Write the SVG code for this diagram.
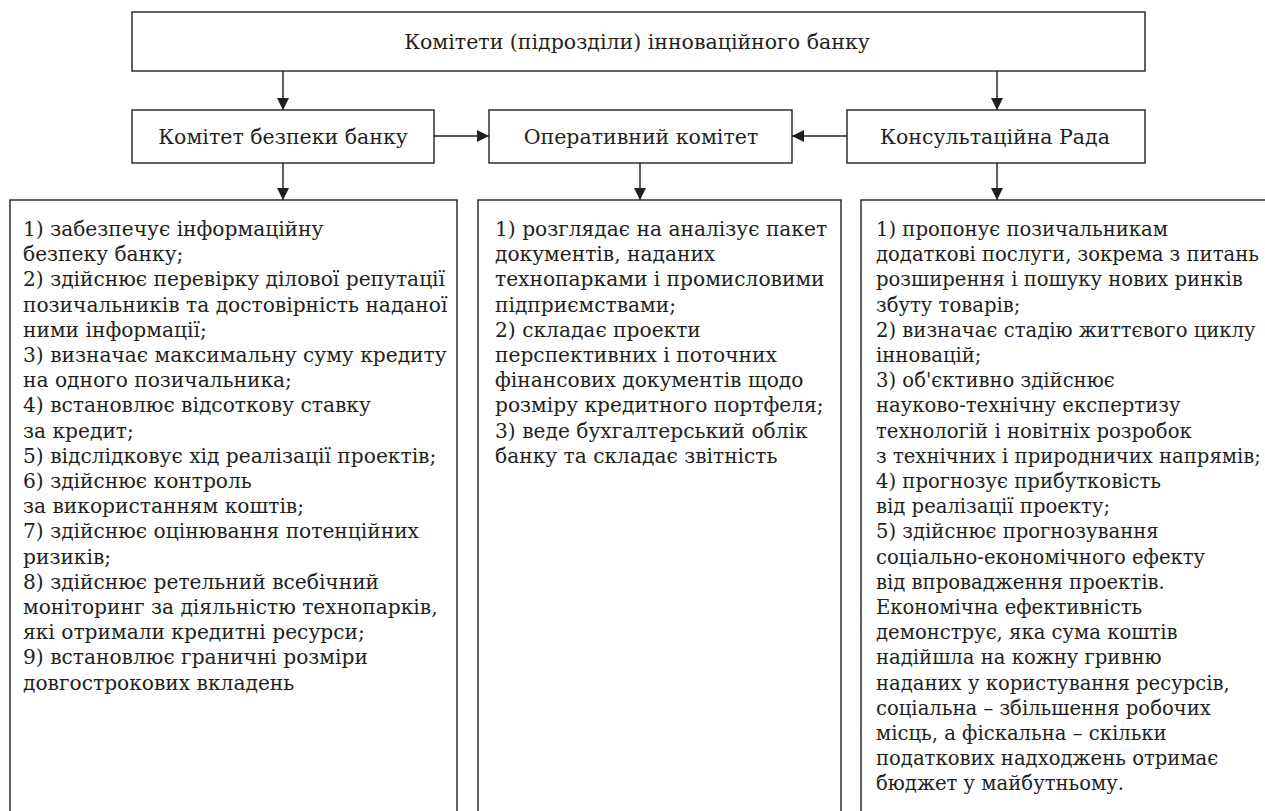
<svg xmlns="http://www.w3.org/2000/svg" width="1265" height="811" viewBox="0 0 1265 811">
<defs>
<style>
.box{fill:#fff;stroke:#231f20;stroke-width:1.4}
.ln{stroke:#231f20;stroke-width:1.4;fill:none}
text{fill:#231f20;font-family:"DejaVu Serif","Liberation Serif",serif}
.h{font-size:20.5px;text-anchor:middle}
.b{font-size:20.2px}
.r{font-size:19.6px}
</style>
<marker id="ah" viewBox="0 0 12 12" refX="12" refY="6" markerWidth="12" markerHeight="12" markerUnits="userSpaceOnUse" orient="auto">
<path d="M0,0 L12,6 L0,12 Z" fill="#231f20"/>
</marker>
</defs>
<rect width="1265" height="811" fill="#fff"/>
<g id="connectors">
<line class="ln" x1="283" y1="71" x2="283" y2="110" marker-end="url(#ah)"/>
<line class="ln" x1="997" y1="71" x2="997" y2="110" marker-end="url(#ah)"/>
<line class="ln" x1="434" y1="136" x2="489" y2="136" marker-end="url(#ah)"/>
<line class="ln" x1="847" y1="136" x2="792" y2="136" marker-end="url(#ah)"/>
<line class="ln" x1="283" y1="163" x2="283" y2="200" marker-end="url(#ah)"/>
<line class="ln" x1="640" y1="163" x2="640" y2="200" marker-end="url(#ah)"/>
<line class="ln" x1="997" y1="163" x2="997" y2="200" marker-end="url(#ah)"/>
</g>
<g id="top">
<rect class="box" x="132" y="12" width="1013" height="59"/>
<text class="h" x="637" y="49">Комітети (підрозділи) інноваційного банку</text>
</g>
<g id="security">
<rect class="box" x="132" y="110" width="302" height="53"/>
<text class="h" x="283" y="144">Комітет безпеки банку</text>
</g>
<g id="operative">
<rect class="box" x="489" y="110" width="303" height="53"/>
<text class="h" x="641" y="144">Оперативний комітет</text>
</g>
<g id="council">
<rect class="box" x="847" y="110" width="298" height="53"/>
<text class="h" x="995" y="144">Консультаційна Рада</text>
</g>
<g id="security-tasks">
<rect class="box" x="10" y="200" width="447" height="630"/>
<text class="b" x="23" y="236">
<tspan x="23" dy="0">1) забезпечує інформаційну</tspan>
<tspan x="23" dy="25.2">безпеку банку;</tspan>
<tspan x="23" dy="25.2">2) здійснює перевірку ділової репутації</tspan>
<tspan x="23" dy="25.2">позичальників та достовірність наданої</tspan>
<tspan x="23" dy="25.2">ними інформації;</tspan>
<tspan x="23" dy="25.2">3) визначає максимальну суму кредиту</tspan>
<tspan x="23" dy="25.2">на одного позичальника;</tspan>
<tspan x="23" dy="25.2">4) встановлює відсоткову ставку</tspan>
<tspan x="23" dy="25.2">за кредит;</tspan>
<tspan x="23" dy="25.2">5) відслідковує хід реалізації проектів;</tspan>
<tspan x="23" dy="25.2">6) здійснює контроль</tspan>
<tspan x="23" dy="25.2">за використанням коштів;</tspan>
<tspan x="23" dy="25.2">7) здійснює оцінювання потенційних</tspan>
<tspan x="23" dy="25.2">ризиків;</tspan>
<tspan x="23" dy="25.2">8) здійснює ретельний всебічний</tspan>
<tspan x="23" dy="25.2">моніторинг за діяльністю технопарків,</tspan>
<tspan x="23" dy="25.2">які отримали кредитні ресурси;</tspan>
<tspan x="23" dy="25.2">9) встановлює граничні розміри</tspan>
<tspan x="23" dy="25.2">довгострокових вкладень</tspan>
</text>
</g>
<g id="operative-tasks">
<rect class="box" x="478" y="200" width="363" height="630"/>
<text class="b" x="495" y="236">
<tspan x="495" dy="0">1) розглядає на аналізує пакет</tspan>
<tspan x="495" dy="25.2">документів, наданих</tspan>
<tspan x="495" dy="25.2">технопарками і промисловими</tspan>
<tspan x="495" dy="25.2">підприємствами;</tspan>
<tspan x="495" dy="25.2">2) складає проекти</tspan>
<tspan x="495" dy="25.2">перспективних і поточних</tspan>
<tspan x="495" dy="25.2">фінансових документів щодо</tspan>
<tspan x="495" dy="25.2">розміру кредитного портфеля;</tspan>
<tspan x="495" dy="25.2">3) веде бухгалтерський облік</tspan>
<tspan x="495" dy="25.2">банку та складає звітність</tspan>
</text>
</g>
<g id="council-tasks">
<rect class="box" x="861" y="200" width="420" height="630"/>
<text class="r" x="876" y="236">
<tspan x="876" dy="0">1) пропонує позичальникам</tspan>
<tspan x="876" dy="25.2">додаткові послуги, зокрема з питань</tspan>
<tspan x="876" dy="25.2">розширення і пошуку нових ринків</tspan>
<tspan x="876" dy="25.2">збуту товарів;</tspan>
<tspan x="876" dy="25.2">2) визначає стадію життєвого циклу</tspan>
<tspan x="876" dy="25.2">інновацій;</tspan>
<tspan x="876" dy="25.2">3) об'єктивно здійснює</tspan>
<tspan x="876" dy="25.2">науково-технічну експертизу</tspan>
<tspan x="876" dy="25.2">технологій і новітніх розробок</tspan>
<tspan x="876" dy="25.2">з технічних і природничих напрямів;</tspan>
<tspan x="876" dy="25.2">4) прогнозує прибутковість</tspan>
<tspan x="876" dy="25.2">від реалізації проекту;</tspan>
<tspan x="876" dy="25.2">5) здійснює прогнозування</tspan>
<tspan x="876" dy="25.2">соціально-економічного ефекту</tspan>
<tspan x="876" dy="25.2">від впровадження проектів.</tspan>
<tspan x="876" dy="25.2">Економічна ефективність</tspan>
<tspan x="876" dy="25.2">демонструє, яка сума коштів</tspan>
<tspan x="876" dy="25.2">надійшла на кожну гривню</tspan>
<tspan x="876" dy="25.2">наданих у користування ресурсів,</tspan>
<tspan x="876" dy="25.2">соціальна – збільшення робочих</tspan>
<tspan x="876" dy="25.2">місць, а фіскальна – скільки</tspan>
<tspan x="876" dy="25.2">податкових надходжень отримає</tspan>
<tspan x="876" dy="25.2">бюджет у майбутньому.</tspan>
</text>
</g>
</svg>
